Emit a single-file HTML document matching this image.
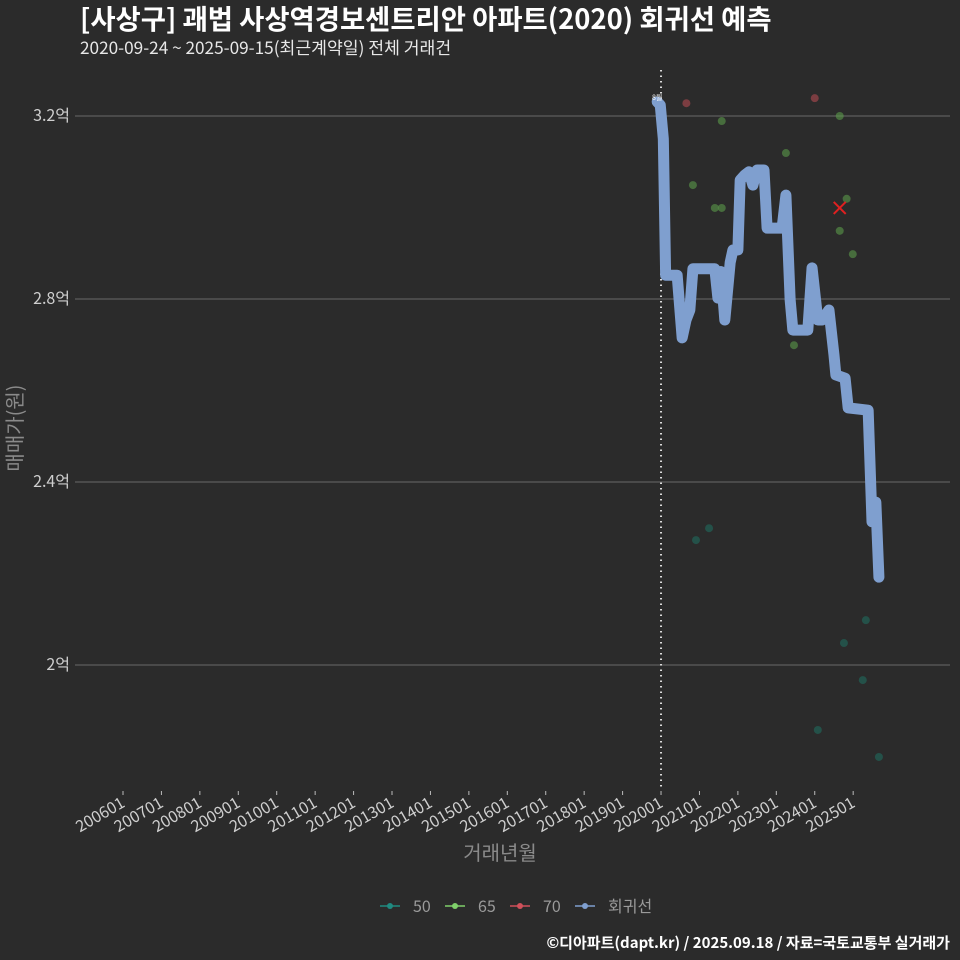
<!DOCTYPE html>
<html><head><meta charset="utf-8"><style>
body{margin:0;background:#2b2b2b;}
svg{display:block;font-family:"Noto Sans CJK KR",sans-serif;}
</style></head><body>
<svg id="c" width="960" height="960" viewBox="0 0 960 960">
<rect width="960" height="960" fill="#2b2b2b"/>
<text x="80" y="29" font-size="27.4" font-weight="bold" fill="#ffffff">[사상구] 괘법 사상역경보센트리안 아파트(2020) 회귀선 예측</text>
<text x="80" y="54" font-size="17.2" fill="#e8e8e8">2020-09-24 ~ 2025-09-15(최근계약일) 전체 거래건</text>
<g id="grid"></g><g id="marks"></g>
<text transform="translate(22,428) rotate(-90)" text-anchor="middle" font-size="20" fill="#8a8a8a">매매가(원)</text>
<text x="500" y="860" text-anchor="middle" font-size="20" fill="#8a8a8a">거래년월</text>
<g id="legend"></g>
<text x="950" y="948" text-anchor="end" font-size="15" font-weight="bold" fill="#ffffff">©디아파트(dapt.kr) / 2025.09.18 / 자료=국토교통부 실거래가</text>
</svg>
<script>
const yTicks=[2.0,2.4,2.8,3.2];
const yTickLabels=["2억","2.4억","2.8억","3.2억"];
const xTickYears=[2006,2007,2008,2009,2010,2011,2012,2013,2014,2015,2016,2017,2018,2019,2020,2021,2022,2023,2024,2025];
const trendT=[2019.90,2019.98,2020.06,2020.12,2020.42,2020.55,2020.65,2020.75,2020.83,2021.40,2021.48,2021.56,2021.66,2021.80,2021.87,2022.00,2022.06,2022.18,2022.29,2022.39,2022.50,2022.68,2022.76,2023.15,2023.25,2023.36,2023.43,2023.82,2023.93,2024.08,2024.19,2024.37,2024.50,2024.55,2024.79,2024.87,2025.39,2025.49,2025.59,2025.67];
const trendV=[3.231,3.224,3.150,2.852,2.852,2.715,2.754,2.776,2.866,2.866,2.802,2.860,2.754,2.880,2.907,2.907,3.060,3.071,3.078,3.049,3.082,3.082,2.955,2.955,3.027,2.798,2.732,2.732,2.868,2.754,2.754,2.776,2.678,2.634,2.627,2.562,2.557,2.313,2.356,2.192];
const s70T=[2020.66,2024.00];const s70V=[3.228,3.239];
const s65T=[2021.58,2020.83,2021.40,2021.58,2023.25,2024.65,2024.83,2024.65,2024.99,2023.46];
const s65V=[3.189,3.049,2.999,2.999,3.119,3.200,3.019,2.949,2.898,2.699];
const s50T=[2020.91,2021.25,2025.33,2024.76,2025.25,2024.08,2025.67];
const s50V=[2.273,2.299,2.098,2.048,1.967,1.858,1.799];
const xT=t=>123+(t-2006)*38.43;
const yV=v=>116+(3.2-v)*457.5;
const NS="http://www.w3.org/2000/svg";
function mk(tag,attrs,parent){const e=document.createElementNS(NS,tag);for(const k in attrs)e.setAttribute(k,attrs[k]);parent.appendChild(e);return e;}
const grid=document.getElementById('grid'),marks=document.getElementById('marks'),leg=document.getElementById('legend');
yTicks.forEach((v,i)=>{
 const l=mk('line',{x1:75,x2:950,y1:yV(v),y2:yV(v),stroke:'#5e5e5e','stroke-width':1.2},grid);
 
 
 const t=mk('text',{x:70,y:yV(v)+5,'text-anchor':'end','font-size':16,fill:'#cfcfcf'},grid);
 t.textContent=yTickLabels[i];
 
 
});
xTickYears.forEach(y=>{
 const x=xT(y);
 const tk=mk('line',{x1:x,x2:x,y1:791,y2:795,stroke:'#bbbbbb','stroke-width':1},grid);
 
 
 const t=mk('text',{transform:`translate(${x+3},${806}) rotate(-30)`,'text-anchor':'end','font-size':16,fill:'#cfcfcf'},grid);
 t.textContent=y+'01';
 
 
});
const vl=mk('line',{x1:xT(2020),x2:xT(2020),y1:70,y2:790,stroke:'#dddddd','stroke-width':2,'stroke-dasharray':'1.5,4'},grid);


function dots(T,V,color,name){T.forEach((t,i)=>{const c=mk('circle',{cx:xT(t),cy:yV(V[i]),r:4,fill:color,'fill-opacity':0.6},marks);
 
 });}
dots(s50T,s50V,'#1f6b5e','point-50');
dots(s65T,s65V,'#5a9a4a','point-65');
dots(s70T,s70V,'#b04a50','point-70');
const p=mk('polyline',{points:trendT.map((t,i)=>xT(t)+','+yV(trendV[i])).join(' '),fill:'none',stroke:'#7f9fcf','stroke-width':11,'stroke-linejoin':'round','stroke-linecap':'round'},marks);


const xx=xT(2024.65),xy=yV(2.999);
const xm=mk('path',{d:`M${xx-6},${xy-6}L${xx+6},${xy+6}M${xx-6},${xy+6}L${xx+6},${xy-6}`,stroke:'#e02020','stroke-width':2},marks);


const lt=mk('text',{x:xT(2019.90),y:yV(3.231)-2,'font-size':7,fill:'#fff','text-anchor':'middle'},marks);
lt.textContent='8월';


const legItems=[['50','#1f8a80',380],['65','#7fd06a',445],['70','#d0505a',510],['회귀선','#7f9fcf',575]];
legItems.forEach(([lab,col,x])=>{
 const g=mk('g',{},leg);
 
 
 mk('line',{x1:x,x2:x+20,y1:906,y2:906,stroke:col,'stroke-width':1.5},g);
 mk('circle',{cx:x+10,cy:906,r:3,fill:col},g);
 const t=mk('text',{x:x+33,y:912,'font-size':16,fill:'#9a9a9a'},g);
 t.textContent=lab;
});
</script>
</body></html>
